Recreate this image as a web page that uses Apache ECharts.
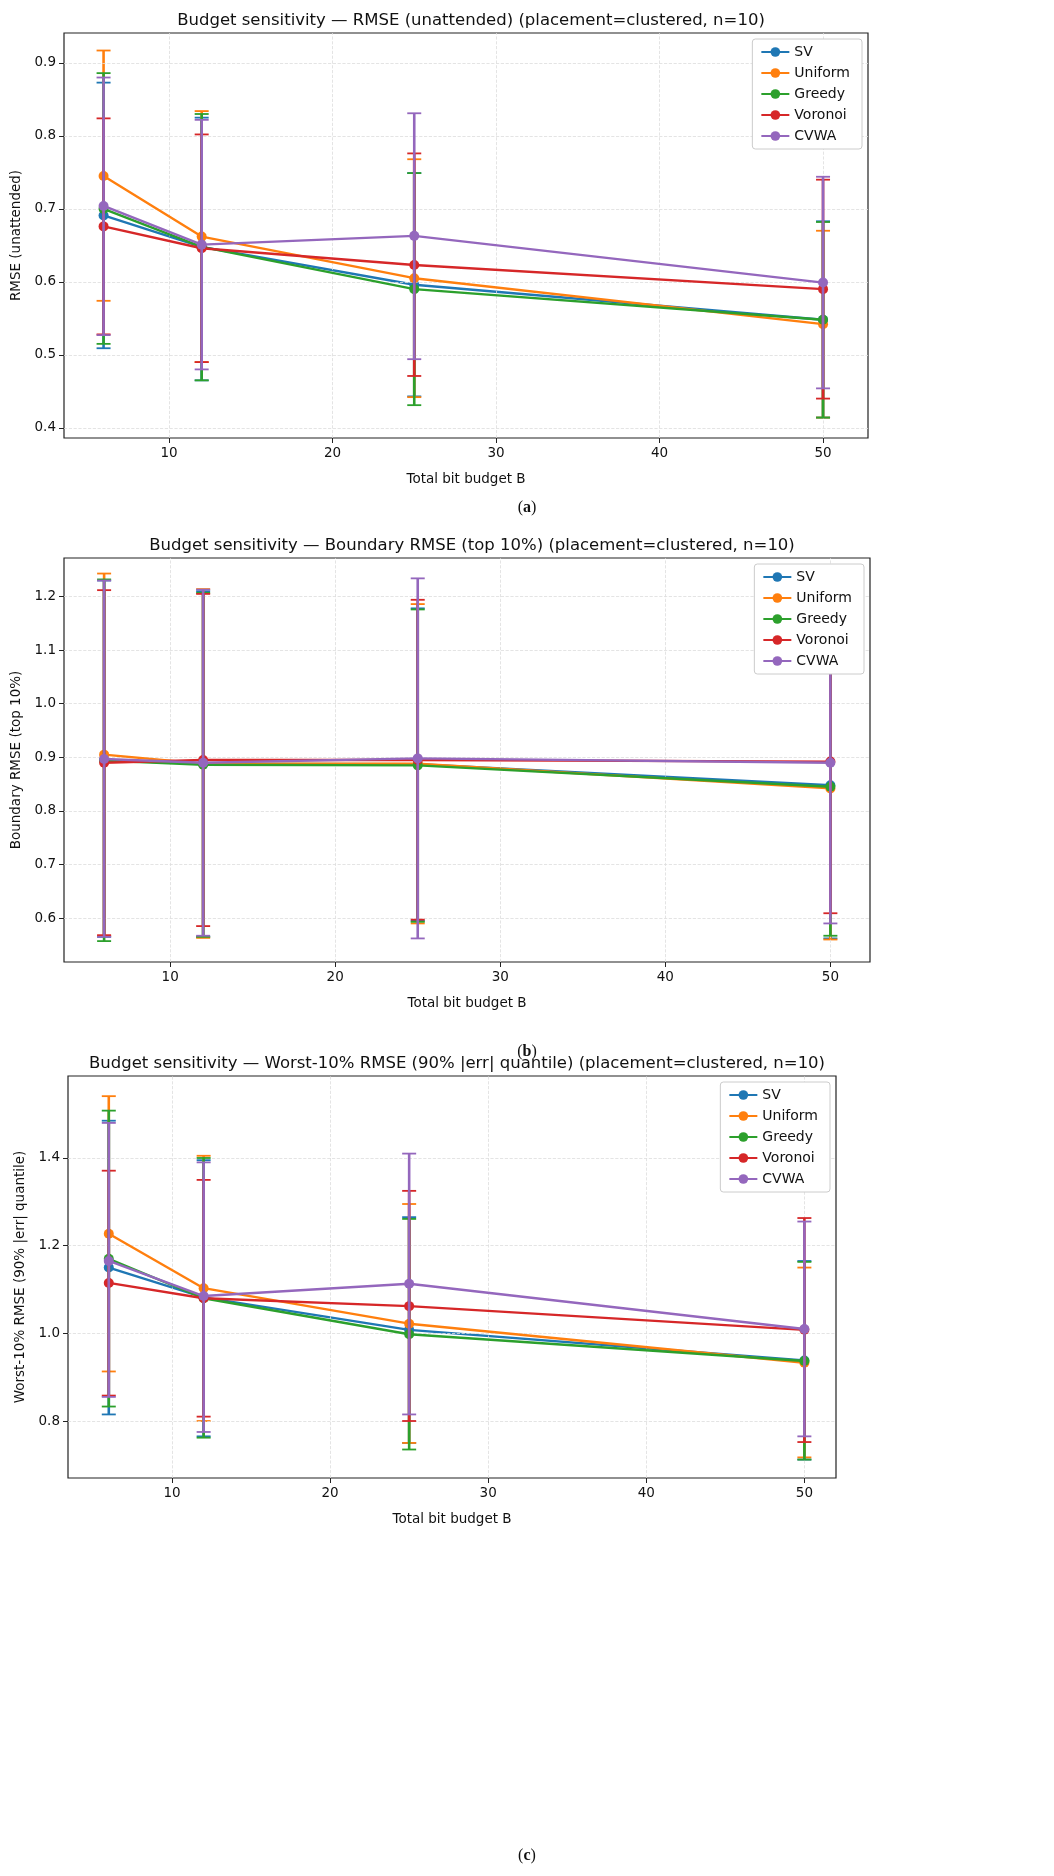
<!DOCTYPE html>
<html><head><meta charset="utf-8">
<script src="https://cdn.jsdelivr.net/npm/echarts@6/dist/echarts.min.js"></script>
<style>html,body{margin:0;background:#fff}#c{width:1054px;height:1876px}</style>
</head><body><div id="c"></div>
<script>
const budgets = [6, 12, 25, 50];
const methods = ['SV', 'Uniform', 'Greedy', 'Voronoi', 'CVWA'];
const colors = ['#1f77b4', '#ff7f0e', '#2ca02c', '#d62728', '#9467bd'];
const xTicks = [10, 20, 30, 40, 50];
// Panel a: RMSE (unattended) mean / lower / upper per method
const rmseMean = [[0.691,0.648,0.596,0.548],[0.745,0.662,0.605,0.542],[0.700,0.648,0.590,0.548],[0.676,0.646,0.623,0.590],[0.704,0.651,0.663,0.599]];
const rmseLo = [[0.509,0.465,0.443,0.414],[0.574,0.490,0.442,0.414],[0.515,0.465,0.431,0.414],[0.528,0.490,0.471,0.440],[0.527,0.480,0.494,0.454]];
const rmseHi = [[0.873,0.825,0.749,0.683],[0.917,0.834,0.768,0.670],[0.886,0.830,0.749,0.682],[0.824,0.802,0.776,0.740],[0.880,0.822,0.831,0.744]];
const aTicks = [0.4,0.5,0.6,0.7,0.8,0.9];
// Panel b: Boundary RMSE
const bMean = [[0.895,0.888,0.887,0.848],[0.905,0.888,0.888,0.842],[0.894,0.886,0.885,0.845],[0.890,0.895,0.895,0.892],[0.897,0.890,0.898,0.890]];
const bLo = [[0.565,0.565,0.595,0.562],[0.567,0.563,0.590,0.560],[0.557,0.565,0.593,0.567],[0.568,0.585,0.597,0.609],[0.565,0.567,0.562,0.590]];
const bHi = [[1.230,1.210,1.178,1.134],[1.243,1.214,1.186,1.124],[1.232,1.207,1.176,1.123],[1.212,1.205,1.194,1.175],[1.230,1.213,1.234,1.190]];
const bTicks = [0.6,0.7,0.8,0.9,1.0,1.1,1.2];
// Panel c: Worst-10% RMSE
const cMean = [[1.150,1.082,1.008,0.938],[1.227,1.103,1.022,0.933],[1.170,1.080,0.998,0.937],[1.115,1.080,1.062,1.008],[1.165,1.085,1.113,1.010]];
const cLo = [[0.815,0.765,0.750,0.712],[0.913,0.800,0.750,0.717],[0.833,0.762,0.735,0.712],[0.858,0.810,0.800,0.752],[0.855,0.775,0.815,0.765]];
const cHi = [[1.485,1.395,1.265,1.165],[1.541,1.405,1.295,1.150],[1.508,1.400,1.261,1.163],[1.371,1.350,1.325,1.263],[1.480,1.390,1.410,1.255]];
const cTicks = [0.8,1.0,1.2,1.4];

const panels = [
 {title:'Budget sensitivity — RMSE (unattended) (placement=clustered, n=10)', yname:'RMSE (unattended)', mean:rmseMean, lo:rmseLo, hi:rmseHi, yt:aTicks,
  grid:{left:64,top:33,width:804,height:405}, x:[3.58,52.75], y:[0.386,0.941], cap:'a', capY:510},
 {title:'Budget sensitivity — Boundary RMSE (top 10%) (placement=clustered, n=10)', yname:'Boundary RMSE (top 10%)', mean:bMean, lo:bLo, hi:bHi, yt:bTicks,
  grid:{left:64,top:558,width:806,height:404}, x:[3.57,52.4], y:[0.518,1.272], cap:'b', capY:1054},
 {title:'Budget sensitivity — Worst-10% RMSE (90% |err| quantile) (placement=clustered, n=10)', yname:'Worst-10% RMSE (90% |err| quantile)', mean:cMean, lo:cLo, hi:cHi, yt:cTicks,
  grid:{left:68,top:1076,width:768,height:402}, x:[3.42,52.0], y:[0.67,1.587], cap:'c', capY:1858}
];
const F = 'DejaVu Sans';
const option = {animation:false, backgroundColor:'#fff', textStyle:{fontFamily:F},
  grid:[], xAxis:[], yAxis:[], series:[], legend:[], graphic:[], title:[]};
panels.forEach((p,i)=>{
  const g = p.grid;
  option.grid.push(Object.assign({show:true,borderColor:'#222',borderWidth:1.2},g));
  option.title.push({text:p.title, left:g.left+g.width/2, top:g.top-26, textAlign:'center',
    textStyle:{fontFamily:F,fontSize:16.5,fontWeight:'normal',color:'#111'}});
  option.xAxis.push({type:'value', gridIndex:i, min:p.x[0], max:p.x[1], name:'Total bit budget B',
    nameLocation:'middle', nameGap:34, nameTextStyle:{fontSize:13.5,color:'#111'},
    axisLine:{show:false}, splitLine:{show:false},
    axisTick:{show:true, customValues:xTicks, length:5, lineStyle:{color:'#222'}},
    axisLabel:{customValues:xTicks, fontSize:13.5, color:'#111', margin:8}});
  option.yAxis.push({type:'value', gridIndex:i, min:p.y[0], max:p.y[1], name:p.yname,
    nameLocation:'middle', nameGap:40, nameTextStyle:{fontSize:13.5,color:'#111'},
    axisLine:{show:false}, splitLine:{show:false},
    axisTick:{show:true, customValues:p.yt, length:5, lineStyle:{color:'#222'}},
    axisLabel:{customValues:p.yt, fontSize:13.5, color:'#111', formatter:v=>v.toFixed(1)}});
  const gl = {type:'dashed', color:'#ddd', width:0.8};
  option.series.push({type:'line', xAxisIndex:i, yAxisIndex:i, data:[], silent:true, z:0,
    markLine:{silent:true, symbol:'none', label:{show:false}, lineStyle:gl, animation:false,
      data: xTicks.map(v=>({xAxis:v})).concat(p.yt.map(v=>({yAxis:v})))}});
  methods.forEach((m,k)=>{
    const eb = budgets.map((b,j)=>[b, p.lo[k][j], p.hi[k][j]]);
    option.series.push({type:'custom', name:m+'_err', xAxisIndex:i, yAxisIndex:i, data:eb, z:2+k*2,
      encode:{x:0,y:[1,2]},
      renderItem:(params,api)=>{
        const a = api.coord([api.value(0), api.value(1)]);
        const b = api.coord([api.value(0), api.value(2)]);
        const st = {stroke:colors[k], lineWidth:2.6};
        return {type:'group', children:[
          {type:'line', shape:{x1:a[0],y1:a[1],x2:b[0],y2:b[1]}, style:st},
          {type:'line', shape:{x1:a[0]-7,y1:a[1],x2:a[0]+7,y2:a[1]}, style:{stroke:colors[k],lineWidth:1.8}},
          {type:'line', shape:{x1:b[0]-7,y1:b[1],x2:b[0]+7,y2:b[1]}, style:{stroke:colors[k],lineWidth:1.8}}]};
      }});
    option.series.push({type:'line', name:m, xAxisIndex:i, yAxisIndex:i, z:3+k*2,
      data: budgets.map((b,j)=>[b, p.mean[k][j]]), color:colors[k],
      symbol:'circle', symbolSize:10, lineStyle:{width:2.4}, itemStyle:{color:colors[k]}});
  });
  option.legend.push({data:methods, orient:'vertical', right:1054-(g.left+g.width)+6, top:g.top+6, z:50,
    backgroundColor:'#fff', borderColor:'#ccc', borderWidth:1, borderRadius:3,
    padding:[6,12,6,8], itemGap:7, itemWidth:28, itemHeight:12,
    textStyle:{fontSize:14,color:'#111'}});
  option.graphic.push({type:'text', left:'center', top:p.capY-10,
    style:{text:'({b|'+p.cap+'})', fontSize:16, fill:'#111', fontFamily:'Liberation Serif',
      rich:{b:{fontWeight:'bold',fontSize:16,fontFamily:'Liberation Serif'}}}});
});
echarts.init(document.getElementById('c')).setOption(option);
</script></body></html>
